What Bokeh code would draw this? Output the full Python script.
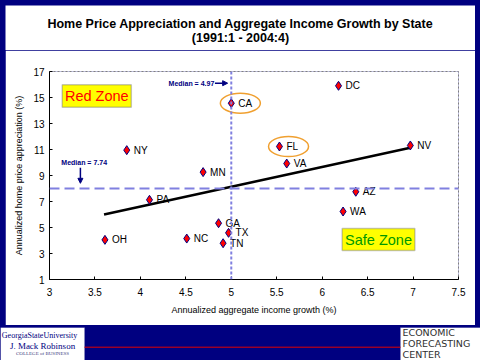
from bokeh.plotting import figure
from bokeh.layouts import column
from bokeh.models import (Label, BoxAnnotation, ColumnDataSource, Span, Arrow,
                          NormalHead, FixedTicker, CustomJSTickFormatter)
from bokeh.core.properties import value
from bokeh.embed import file_html
from bokeh.resources import INLINE

# ---- data ----
states = ["CA", "NY", "MN", "PA", "DC", "FL", "VA", "NV", "AZ", "WA", "OH", "NC", "GA", "TX", "TN"]
income_growth = [5.00, 3.85, 4.69, 4.10, 6.18, 5.53, 5.61, 6.97, 6.37, 6.23, 3.61, 4.51, 4.86, 4.97, 4.91]
home_price_app = [14.56, 10.95, 9.26, 7.13, 15.90, 11.23, 9.92, 11.31, 7.75, 6.23, 4.05, 4.15, 5.33, 4.59, 3.79]
highlighted = ["CA", "FL"]
trend_x = [3.60, 6.97]
trend_y = [6.00, 11.13]
median_income_line = 5.0
median_hpa_line = 8.0
median_income_text = "Median = 4.97"
median_hpa_text = "Median = 7.74"
x_ticks = [3, 3.5, 4, 4.5, 5, 5.5, 6, 6.5, 7, 7.5]
y_ticks = [1, 3, 5, 7, 9, 11, 13, 15, 17]
title_lines = ["Home Price Appreciation and Aggregate Income Growth by State", "(1991:1 - 2004:4)"]
logo_lines = ["GeorgiaStateUniversity", "J. Mack Robinson", "COLLEGE of BUSINESS"]
center_lines = ["ECONOMIC", "FORECASTING", "CENTER"]

FONT = "Liberation Sans"
NAVY = "#000080"


def deco_figure(w, h, **kw):
    f = figure(width=w, height=h, x_range=(0, w), y_range=(0, h), output_backend="svg",
               toolbar_location=None, x_axis_type=None, y_axis_type=None, min_border=0,
               frame_align=False, **kw)
    f.xgrid.visible = False
    f.ygrid.visible = False
    f.outline_line_color = None
    return f


# ---- title strip ----
t = deco_figure(470, 45, margin=(5, 5, 0, 5))
t.background_fill_color = "white"
t.border_fill_color = "white"
t.text([235, 235], [27, 13], text=title_lines, text_align="center", text_baseline="middle",
       text_font=value(FONT), text_font_size="12.5px", text_font_style="bold", text_color="black")

# ---- main chart ----
p = figure(width=470, height=275, x_range=(3, 7.5), y_range=(1, 17),
           output_backend="svg", toolbar_location=None, margin=(0, 5, 0, 5),
           frame_align=False,
           min_border_left=44, min_border_right=17, min_border_top=21, min_border_bottom=46)
p.background_fill_color = "white"
p.border_fill_color = "white"
p.xgrid.visible = False
p.ygrid.visible = False
p.outline_line_color = "#808080"
p.outline_line_dash = "2 2"
p.outline_line_width = 1

for ax in (p.xaxis[0], p.yaxis[0]):
    ax.axis_line_color = "black"
    ax.axis_line_width = 1
    ax.major_tick_in = 3
    ax.major_tick_out = 0
    ax.minor_tick_line_color = None
    ax.major_tick_line_color = "black"
    ax.major_label_text_font = FONT
    ax.major_label_text_font_size = "10px"
    ax.major_label_text_color = "black"
    ax.axis_label_text_font = FONT
    ax.axis_label_text_font_size = "9px"
    ax.axis_label_text_font_style = "normal"
    ax.axis_label_text_color = "black"

p.xaxis.ticker = FixedTicker(ticks=x_ticks)
p.yaxis.ticker = FixedTicker(ticks=y_ticks)
p.xaxis.formatter = CustomJSTickFormatter(code="return String(tick);")
p.yaxis.formatter = CustomJSTickFormatter(code="return String(tick);")
p.xaxis.axis_label = "Annualized aggregate income growth (%)"
p.yaxis.axis_label = "Annualized home price appreciation (%)"
p.xaxis.major_label_standoff = 8
p.xaxis.axis_label_standoff = 6
p.yaxis.major_label_standoff = 5
p.yaxis.axis_label_standoff = 6

# median lines
p.add_layout(Span(location=median_income_line, dimension="height", line_color="#8080e0",
                  line_width=2, line_dash="3 2"))
p.add_layout(Span(location=median_hpa_line, dimension="width", line_color="#8080e0",
                  line_width=2, line_dash="10 5"))

# trend line
p.line(trend_x, trend_y, line_color="black", line_width=2.5)

# highlight ellipses
hx = [income_growth[states.index(s)] + 0.1 for s in highlighted]
hy = [home_price_app[states.index(s)] for s in highlighted]
p.ellipse(hx, hy, width=40, height=20, width_units="screen", height_units="screen",
          fill_color=None, line_color="#f0a030", line_width=1.5)

src = ColumnDataSource(dict(x=income_growth, y=home_price_app, s=states))
p.scatter("x", "y", source=src, marker="diamond", size=9, fill_color="#ff0000",
          line_color=NAVY, line_width=1)
p.text("x", "y", text="s", source=src, x_offset=7, text_baseline="middle",
       text_font=value(FONT), text_font_size="10px", text_color="black")

# zone boxes
p.add_layout(BoxAnnotation(left=3.14, right=3.90, top=15.98, bottom=14.25,
                           fill_color="#ffff00", fill_alpha=1, line_color="#404080",
                           line_width=1.5))
p.add_layout(Label(x=3.52, y=15.11, text="Red Zone", text_align="center", text_baseline="middle",
                   text_font=FONT, text_font_size="14.5px", text_color="#ff0000"))
p.add_layout(BoxAnnotation(left=6.22, right=7.02, top=4.92, bottom=3.23,
                           fill_color="#ffff00", fill_alpha=1, line_color="#404080",
                           line_width=1.5))
p.add_layout(Label(x=6.62, y=4.07, text="Safe Zone", text_align="center", text_baseline="middle",
                   text_font=FONT, text_font_size="14.5px", text_color="#009900"))

# median labels and arrows
p.add_layout(Label(x=4.31, y=16.1, text=median_income_text, text_baseline="middle",
                   text_font=FONT, text_font_size="7px", text_font_style="bold", text_color=NAVY))
p.add_layout(Arrow(x_start=4.82, y_start=16.1, x_end=4.96, y_end=16.1, line_color=NAVY,
                   line_width=1.5, end=NormalHead(size=5, fill_color=NAVY, line_color=NAVY)))
p.add_layout(Label(x=3.13, y=9.98, text=median_hpa_text, text_baseline="middle",
                   text_font=FONT, text_font_size="7px", text_font_style="bold", text_color=NAVY))
p.add_layout(Arrow(x_start=3.34, y_start=9.6, x_end=3.34, y_end=8.4, line_color=NAVY,
                   line_width=1.5, end=NormalHead(size=5, fill_color=NAVY, line_color=NAVY)))

# ---- footer ----
f = deco_figure(480, 33, margin=(2, 0, 0, 0))
f.background_fill_color = NAVY
f.border_fill_color = NAVY
f.quad(left=[0, 400], right=[84, 480], bottom=[0, 0], top=[33, 33],
       fill_color="white", line_color="#9090c0", line_dash="1 1")
f.segment(x0=[84], y0=[13.3], x1=[400], y1=[13.3], line_color="#e00000", line_width=1)
f.text([39, 42, 42], [25, 14.5, 7], text=logo_lines, text_align="center", text_baseline="middle",
       text_font=value("Liberation Serif"), text_font_size=["8px", "9px", "5px"],
       text_color=[NAVY, NAVY, "#404080"])
f.text([402, 402, 402], [28.3, 17, 6.5], text=center_lines, text_align="left", text_baseline="middle",
       text_font=value("DejaVu Sans"), text_font_size="9.5px", text_color="#303030")

layout = column(t, p, f, spacing=0, styles={"background-color": NAVY})
open("out.html", "w").write(file_html(layout, INLINE))
